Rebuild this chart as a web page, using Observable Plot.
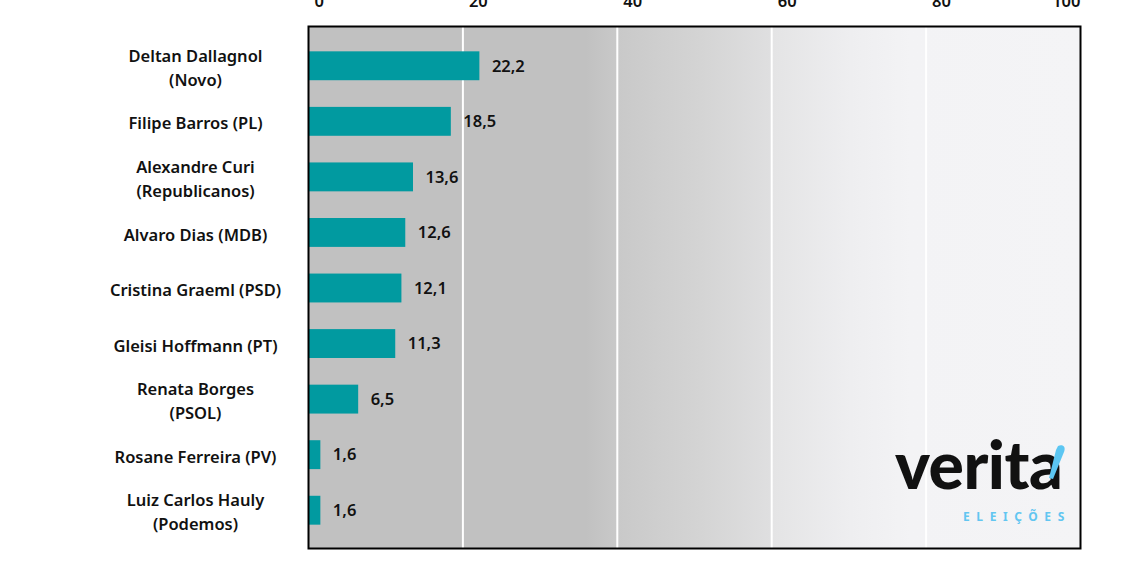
<!DOCTYPE html>
<html>
<head>
<meta charset="utf-8">
<script src="https://cdn.jsdelivr.net/npm/d3@7"></script>
<script src="https://cdn.jsdelivr.net/npm/@observablehq/plot@0.6"></script>
<style>
  html, body { margin: 0; padding: 0; background: #fff; }
  #wrap { position: relative; width: 1134px; height: 566px; overflow: hidden; }
  #logo { position: absolute; left: 890px; top: 430px; width: 190px; height: 110px; pointer-events: none; }
  #logo .word { position: absolute; left: 5px; top: 1px; font-family: Lato, "Noto Sans", sans-serif; font-weight: 900; font-size: 66px; letter-spacing: -0.5px; color: #111; line-height: 1; }
  #logo .sub { position: absolute; left: 73px; top: 81px; font-family: "Noto Sans", sans-serif; font-weight: 700; font-size: 12px; letter-spacing: 6.6px; color: #62c6f1; line-height: 1; }
  #logo svg { position: absolute; left: 0; top: 0; }
</style>
</head>
<body>
<div id="wrap"></div>
<script>
const candidates = [
  "Deltan Dallagnol\n(Novo)",
  "Filipe Barros (PL)",
  "Alexandre Curi\n(Republicanos)",
  "Alvaro Dias (MDB)",
  "Cristina Graeml (PSD)",
  "Gleisi Hoffmann (PT)",
  "Renata Borges\n(PSOL)",
  "Rosane Ferreira (PV)",
  "Luiz Carlos Hauly\n(Podemos)"
];
const values = [22.2, 18.5, 13.6, 12.6, 12.1, 11.3, 6.5, 1.6, 1.6];
const ticksMain = [0, 20, 40, 60, 80];
const ticksEnd = [100];
const gridTicks = [20, 40, 60, 80];

const data = candidates.map((name, i) => ({name, value: values[i]}));
const fmt = v => d3.format(".1f")(v).replace(".", ",");

const chart = Plot.plot({
  width: 1134,
  height: 566,
  marginLeft: 308,
  marginRight: 54,
  marginTop: 26,
  marginBottom: 18,
  style: {fontFamily: "'Noto Sans', sans-serif", fontSize: "16.5px", fontWeight: 600, color: "#111", background: "transparent"},
  x: {domain: [0, 100], label: null},
  y: {domain: candidates, label: null, round: false, paddingInner: 0.48, paddingOuter: 0.24, insetTop: 12, insetBottom: 10},
  marks: [
    Plot.frame({fill: "url(#bggrad)"}),
    Plot.gridX(gridTicks, {stroke: "white", strokeOpacity: 1, strokeWidth: 2}),
    Plot.barX(data, {x: "value", y: "name", fill: "#019aa0"}),
    Plot.text(data, {x: "value", y: "name", text: d => fmt(d.value), textAnchor: "start", dx: 12, fontSize: 16.5, fontWeight: 600, fill: "#111"}),
    Plot.axisY({label: null, tickSize: 0, tickPadding: 113, textAnchor: "middle", fontSize: 16.5, lineHeight: 1.45, fontWeight: 600, tickFormat: d => d}),
    Plot.axisX(ticksMain, {label: null, anchor: "top", tickSize: 0, tickPadding: 20, textAnchor: "start", dx: 6, fontSize: 16.5, fontWeight: 600}),
    Plot.axisX(ticksEnd, {label: null, anchor: "top", tickSize: 0, tickPadding: 20, textAnchor: "end", dx: 0, fontSize: 16.5, fontWeight: 600}),
    Plot.frame({stroke: "black", strokeWidth: 2})
  ]
});

const svg = d3.select(chart);
const defs = svg.insert("defs", ":first-child");
const g = defs.append("linearGradient").attr("id", "bggrad").attr("gradientUnits", "userSpaceOnUse")
  .attr("x1", 308).attr("x2", 1080).attr("y1", 0).attr("y2", 0);
const L = 772;
const stops = [[308, "#c1c1c1"], [585, "#c1c1c1"], [617, "#c9c9c9"], [700, "#d4d4d4"], [770, "#dfdfe0"], [772, "#e4e4e5"], [850, "#eeeef0"], [910, "#f3f3f5"], [1080, "#f4f4f6"]];
stops.forEach(([px, c]) => g.append("stop").attr("offset", (px - 308) / L).attr("stop-color", c));

const wrap = document.getElementById("wrap");
wrap.appendChild(chart);

const logo = document.createElement("div");
logo.id = "logo";
logo.innerHTML = `<div class="word">verita</div>
<svg width="190" height="110" viewBox="0 0 190 110"><path d="M168 16 C173 14 176 17 174 22 L163 49 L159 48 L166 20 Z" fill="#5cc6f2"/></svg>
<div class="sub">ELEIÇÕES</div>`;
wrap.appendChild(logo);
</script>
</body>
</html>
